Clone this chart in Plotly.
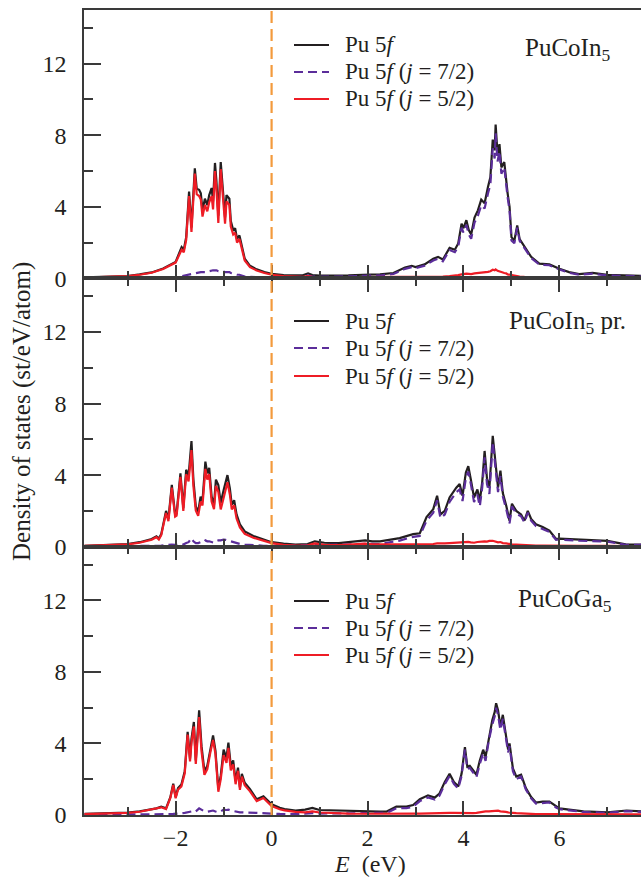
import plotly.graph_objects as go
from plotly.subplots import make_subplots

# ---------------- data ----------------
# Panel 1: PuCoIn5
E1 = [-3.9, -3.5, -3.0, -2.75, -2.5, -2.26, -2.0, -1.875, -1.83, -1.78,
      -1.72, -1.67, -1.6, -1.56, -1.51, -1.475, -1.44, -1.39, -1.34, -1.3,
      -1.25, -1.22, -1.18, -1.15, -1.11, -1.06, -1.02, -0.97, -0.94, -0.88,
      -0.85, -0.8, -0.76, -0.72, -0.67, -0.625, -0.56, -0.45, -0.31, -0.15,
      0.0, 0.25, 0.5, 0.65, 0.76, 0.85, 1.0, 1.3, 1.6, 1.9,
      2.1, 2.26, 2.54, 2.78, 2.92, 3.0, 3.19, 3.37, 3.47, 3.57,
      3.71, 3.82, 3.89, 3.96, 4.0, 4.06, 4.11, 4.16, 4.23, 4.3,
      4.37, 4.44, 4.51, 4.56, 4.61, 4.65, 4.67, 4.71, 4.75, 4.79,
      4.85, 4.89, 4.92, 4.96, 5.0, 5.06, 5.12, 5.17, 5.27, 5.41,
      5.58, 5.79, 6.0, 6.2, 6.41, 6.69, 7.0, 7.3, 7.7]
tot1 = [0.05, 0.08, 0.13, 0.22, 0.33, 0.55, 0.92, 1.75, 1.6, 2.3,
        4.85, 2.85, 6.15, 5.0, 4.95, 4.75, 3.8, 4.45, 4.1, 4.65,
        5.05, 4.3, 6.45, 5.45, 3.5, 6.5, 5.2, 3.4, 4.65, 4.45,
        3.2, 2.7, 2.8, 2.2, 2.4, 1.8, 1.1, 0.7, 0.5, 0.35,
        0.25, 0.18, 0.15, 0.17, 0.28, 0.18, 0.15, 0.14, 0.17, 0.2,
        0.2, 0.22, 0.3, 0.6, 0.7, 0.63, 0.78, 1.1, 1.2, 1.05,
        1.7, 1.6, 1.95, 3.05, 2.8, 3.25, 2.7, 2.45, 3.4, 3.8,
        4.4, 4.2, 5.1, 5.65, 7.75, 7.15, 8.6, 6.95, 7.5, 6.2,
        6.5, 5.4, 4.75, 4.0, 2.3, 2.1, 2.95, 2.2, 1.75, 1.2,
        0.82, 0.78, 0.54, 0.35, 0.24, 0.3, 0.19, 0.17, 0.14]
j72_1 = [0.01, 0.01, 0.01, 0.02, 0.02, 0.03, 0.04, 0.12, 0.15, 0.15,
         0.2, 0.25, 0.3, 0.3, 0.35, 0.35, 0.35, 0.35, 0.35, 0.4,
         0.45, 0.45, 0.45, 0.45, 0.4, 0.4, 0.4, 0.35, 0.35, 0.35,
         0.3, 0.25, 0.25, 0.2, 0.2, 0.15, 0.1, 0.08, 0.06, 0.05,
         0.05, 0.06, 0.07, 0.09, 0.16, 0.1, 0.09, 0.08, 0.11, 0.14,
         0.14, 0.16, 0.24, 0.53, 0.63, 0.56, 0.71, 1.0, 1.1, 0.95,
         1.58, 1.46, 1.77, 2.83, 2.56, 2.99, 2.45, 2.21, 3.12, 3.5,
         4.08, 3.9, 4.74, 5.25, 7.27, 6.7, 8.1, 6.53, 7.1, 5.85,
         6.2, 5.12, 4.53, 3.8, 2.12, 1.96, 2.83, 2.1, 1.67, 1.14,
         0.77, 0.73, 0.5, 0.31, 0.2, 0.26, 0.16, 0.14, 0.11]
j52_1 = [0.04, 0.07, 0.12, 0.2, 0.31, 0.52, 0.88, 1.6, 1.45, 2.15,
         4.6, 2.6, 5.85, 4.7, 4.6, 4.4, 3.45, 4.1, 3.75, 4.25,
         4.6, 3.85, 6.0, 5.0, 3.1, 6.1, 4.8, 3.05, 4.3, 4.1,
         2.9, 2.45, 2.55, 2.0, 2.2, 1.65, 1.0, 0.62, 0.44, 0.3,
         0.2, 0.12, 0.08, 0.08, 0.12, 0.08, 0.06, 0.06, 0.06, 0.06,
         0.06, 0.06, 0.06, 0.07, 0.07, 0.07, 0.07, 0.08, 0.1, 0.1,
         0.12, 0.14, 0.18, 0.22, 0.24, 0.26, 0.25, 0.24, 0.28, 0.3,
         0.32, 0.3, 0.36, 0.4, 0.48, 0.45, 0.5, 0.42, 0.4, 0.35,
         0.3, 0.28, 0.22, 0.2, 0.18, 0.14, 0.12, 0.1, 0.08, 0.06,
         0.05, 0.05, 0.04, 0.04, 0.04, 0.04, 0.03, 0.03, 0.03]

# Panel 2: PuCoIn5 pr.
E2 = [-3.9, -3.5, -3.0, -2.75, -2.5, -2.4, -2.35, -2.3, -2.2, -2.15,
      -2.08, -2.01, -1.98, -1.9, -1.84, -1.78, -1.73, -1.67, -1.63, -1.58,
      -1.53, -1.48, -1.44, -1.38, -1.34, -1.3, -1.25, -1.2, -1.16, -1.11,
      -1.06, -1.0, -0.96, -0.92, -0.87, -0.83, -0.78, -0.73, -0.66, -0.56,
      -0.38, -0.17, 0.0, 0.25, 0.5, 0.75, 0.9, 1.1, 1.4, 1.7,
      1.95, 2.1, 2.26, 2.67, 2.95, 3.09, 3.23, 3.37, 3.45, 3.52,
      3.61, 3.71, 3.85, 3.92, 3.98, 4.05, 4.1, 4.15, 4.22, 4.29,
      4.34, 4.39, 4.44, 4.49, 4.54, 4.61, 4.67, 4.72, 4.77, 4.82,
      4.89, 4.96, 5.01, 5.1, 5.2, 5.27, 5.34, 5.41, 5.51, 5.65,
      5.79, 5.93, 6.0, 6.41, 7.0, 7.38, 7.7]
tot2 = [0.05, 0.09, 0.15, 0.25, 0.43, 0.58, 0.45, 0.7, 2.0, 1.55,
        3.45, 1.8, 1.85, 4.1, 2.15, 4.3, 3.95, 5.9, 3.75, 2.25,
        1.95, 2.8, 2.55, 4.75, 4.1, 4.4, 2.8, 2.35, 3.75, 3.45,
        2.45, 3.15, 3.65, 4.0, 3.25, 2.35, 2.6, 1.8, 1.25, 0.85,
        0.6, 0.4, 0.25, 0.17, 0.12, 0.15, 0.3, 0.22, 0.2, 0.28,
        0.35, 0.3, 0.3, 0.48, 0.7, 0.75, 1.65, 2.1, 2.85, 1.8,
        2.0, 2.75, 3.3, 3.5, 2.85, 4.15, 4.5, 3.8, 2.75, 3.2,
        2.55, 3.6, 5.35, 3.8, 3.3, 6.2, 4.8, 3.3, 4.25, 3.0,
        2.3, 1.45, 2.4, 2.0, 1.8, 1.45, 2.0, 1.55, 1.25, 1.1,
        0.9, 0.43, 0.45, 0.38, 0.32, 0.13, 0.12]
j72_2 = [0.01, 0.01, 0.02, 0.03, 0.04, 0.05, 0.05, 0.06, 0.1, 0.1,
         0.12, 0.1, 0.1, 0.15, 0.12, 0.2, 0.25, 0.47, 0.3, 0.2,
         0.2, 0.25, 0.22, 0.35, 0.3, 0.3, 0.25, 0.22, 0.3, 0.35,
         0.35, 0.4, 0.38, 0.35, 0.3, 0.25, 0.25, 0.2, 0.15, 0.12,
         0.08, 0.05, 0.04, 0.05, 0.05, 0.07, 0.1, 0.1, 0.1, 0.13,
         0.16, 0.15, 0.15, 0.34, 0.55, 0.6, 1.45, 1.9, 2.6, 1.6,
         1.8, 2.5, 3.05, 3.2, 2.55, 3.85, 4.2, 3.55, 2.5, 2.9,
         2.25, 3.3, 5.0, 3.5, 2.95, 5.85, 4.5, 3.05, 3.95, 2.8,
         2.1, 1.3, 2.25, 1.85, 1.7, 1.35, 1.9, 1.45, 1.15, 1.0,
         0.82, 0.38, 0.4, 0.33, 0.28, 0.1, 0.1]
j52_2 = [0.04, 0.08, 0.13, 0.22, 0.39, 0.53, 0.4, 0.64, 1.88, 1.43,
         3.3, 1.68, 1.73, 3.9, 2.0, 4.05, 3.65, 5.4, 3.4, 2.02,
         1.72, 2.52, 2.3, 4.35, 3.75, 4.05, 2.52, 2.1, 3.4, 3.07,
         2.08, 2.72, 3.24, 3.6, 2.92, 2.08, 2.32, 1.58, 1.08, 0.72,
         0.5, 0.33, 0.2, 0.1, 0.06, 0.07, 0.18, 0.1, 0.09, 0.13,
         0.17, 0.13, 0.13, 0.12, 0.13, 0.13, 0.14, 0.15, 0.18, 0.17,
         0.18, 0.2, 0.22, 0.25, 0.27, 0.28, 0.27, 0.24, 0.22, 0.26,
         0.28, 0.27, 0.3, 0.28, 0.32, 0.33, 0.28, 0.24, 0.26, 0.2,
         0.18, 0.14, 0.13, 0.12, 0.1, 0.09, 0.08, 0.07, 0.06, 0.06,
         0.05, 0.04, 0.04, 0.04, 0.04, 0.03, 0.02]

# Panel 3: PuCoGa5
E3 = [-3.9, -3.5, -3.0, -2.75, -2.53, -2.4, -2.3, -2.2, -2.11, -2.05,
      -2.0, -1.95, -1.88, -1.81, -1.75, -1.7, -1.67, -1.62, -1.58, -1.51,
      -1.46, -1.4, -1.34, -1.28, -1.22, -1.17, -1.11, -1.06, -1.0, -0.94,
      -0.9, -0.85, -0.8, -0.75, -0.7, -0.66, -0.62, -0.56, -0.45, -0.31,
      -0.17, 0.0, 0.17, 0.27, 0.5, 0.7, 0.85, 1.0, 1.3, 1.6,
      1.9, 2.26, 2.4, 2.6, 2.81, 2.95, 3.09, 3.26, 3.4, 3.5,
      3.61, 3.71, 3.8, 3.89, 3.96, 4.03, 4.08, 4.13, 4.2, 4.27,
      4.34, 4.41, 4.46, 4.53, 4.6, 4.65, 4.68, 4.72, 4.77, 4.82,
      4.88, 4.93, 4.96, 5.03, 5.1, 5.2, 5.3, 5.41, 5.51, 5.65,
      5.79, 5.93, 6.0, 6.2, 6.5, 7.0, 7.4, 7.7]
tot3 = [0.06, 0.08, 0.14, 0.2, 0.32, 0.37, 0.47, 0.37, 1.0, 1.75,
        1.0, 1.5, 1.7, 2.45, 4.65, 3.15, 4.25, 5.2, 3.05, 5.85,
        3.85, 2.45, 2.75, 3.65, 4.45, 3.6, 1.45, 2.2, 3.65, 3.2,
        4.05, 2.75, 3.05, 1.9, 2.65, 1.55, 2.3, 1.8, 1.45, 0.88,
        1.05, 0.6, 0.4, 0.33, 0.25, 0.3, 0.4, 0.28, 0.25, 0.22,
        0.2, 0.19, 0.19, 0.47, 0.47, 0.56, 0.88, 1.1, 0.97, 1.2,
        1.85, 2.3, 1.85, 1.6, 2.3, 3.8, 2.7, 2.75, 2.5, 2.25,
        3.05, 3.65, 3.25, 4.4, 5.3, 5.75, 6.25, 5.85, 4.95, 5.6,
        4.55, 3.65, 4.0, 2.6, 2.15, 2.25, 1.5, 1.0, 0.7, 0.75,
        0.75, 0.47, 0.37, 0.3, 0.2, 0.15, 0.25, 0.2]
j72_3 = [0.01, 0.01, 0.02, 0.02, 0.03, 0.03, 0.04, 0.04, 0.05, 0.06,
         0.06, 0.08, 0.1, 0.12, 0.15, 0.15, 0.2, 0.25, 0.2, 0.37,
         0.3, 0.2, 0.18, 0.2, 0.25, 0.2, 0.15, 0.2, 0.3, 0.28,
         0.3, 0.25, 0.22, 0.18, 0.18, 0.15, 0.15, 0.14, 0.13, 0.1,
         0.1, 0.08, 0.06, 0.05, 0.05, 0.07, 0.1, 0.08, 0.1, 0.1,
         0.1, 0.12, 0.12, 0.38, 0.38, 0.46, 0.78, 0.98, 0.86, 1.08,
         1.72, 2.18, 1.74, 1.48, 2.18, 3.66, 2.58, 2.64, 2.4, 2.12,
         2.85, 3.45, 3.03, 4.2, 5.05, 5.5, 6.0, 5.6, 4.75, 5.38,
         4.38, 3.5, 3.85, 2.45, 2.0, 2.15, 1.42, 0.93, 0.64, 0.69,
         0.7, 0.42, 0.33, 0.26, 0.17, 0.12, 0.22, 0.17]
j52_3 = [0.05, 0.07, 0.12, 0.18, 0.29, 0.34, 0.43, 0.33, 0.95, 1.68,
         0.94, 1.42, 1.6, 2.33, 4.5, 3.0, 4.05, 4.95, 2.85, 5.48,
         3.55, 2.25, 2.57, 3.45, 4.2, 3.4, 1.3, 2.0, 3.35, 2.92,
         3.75, 2.5, 2.83, 1.72, 2.47, 1.4, 2.15, 1.66, 1.32, 0.78,
         0.95, 0.5, 0.32, 0.26, 0.17, 0.15, 0.2, 0.14, 0.1, 0.08,
         0.07, 0.06, 0.06, 0.07, 0.07, 0.08, 0.08, 0.1, 0.1, 0.1,
         0.11, 0.12, 0.12, 0.11, 0.12, 0.13, 0.12, 0.11, 0.1, 0.12,
         0.16, 0.19, 0.2, 0.2, 0.23, 0.24, 0.25, 0.24, 0.2, 0.2,
         0.17, 0.15, 0.15, 0.12, 0.1, 0.08, 0.07, 0.06, 0.05, 0.05,
         0.05, 0.04, 0.04, 0.04, 0.03, 0.03, 0.03, 0.03]

panel_names = ["PuCoIn<sub>5</sub>", "PuCoIn<sub>5</sub> pr.", "PuCoGa<sub>5</sub>"]
series_names = ["Pu 5<i>f</i>", "Pu 5<i>f</i> (<i>j</i> = 7/2)", "Pu 5<i>f</i> (<i>j</i> = 5/2)"]
y_ticks = [0, 4, 8, 12]
x_ticks = [-2, 0, 2, 4, 6]

# ---------------- styling ----------------
W, H = 641, 879
ML, MR, MT, MB = 84, 0, 10, 64
FONT = "Liberation Serif"
C_BLACK = "#231f20"
C_PURPLE = "#5b2d9a"
C_RED = "#ee1c25"
C_ORANGE = "#f39a3c"
AX = "#3a3a3a"


def pxx(p):
    return (p - ML) / (W - ML - MR)


def pyy(p):
    return (H - MB - p) / (H - MT - MB)


fig = make_subplots(rows=3, cols=1, shared_xaxes=True, vertical_spacing=0)

panels = [(E1, tot1, j72_1, j52_1), (E2, tot2, j72_2, j52_2), (E3, tot3, j72_3, j52_3)]
for r, (E, t, a, b) in enumerate(panels, start=1):
    fig.add_trace(go.Scatter(x=E, y=t, mode="lines", name=series_names[0],
                             line=dict(color=C_BLACK, width=2.2), showlegend=False), row=r, col=1)
    fig.add_trace(go.Scatter(x=E, y=a, mode="lines", name=series_names[1],
                             line=dict(color=C_PURPLE, width=2.2, dash="9px,5px"), showlegend=False), row=r, col=1)
    fig.add_trace(go.Scatter(x=E, y=b, mode="lines", name=series_names[2],
                             line=dict(color=C_RED, width=2.2), showlegend=False), row=r, col=1)

tickfont = dict(family=FONT, size=24, color=C_BLACK)
for r in (1, 2, 3):
    fig.update_xaxes(row=r, col=1, range=[-3.91, 7.70], showline=True, linecolor=AX, linewidth=1.5,
                     ticks="inside", ticklen=14, tickwidth=1.5, tickcolor=AX,
                     tickmode="array", tickvals=x_ticks,
                     minor=dict(tickmode="array", tickvals=[-3, -1, 1, 3, 5, 7], ticks="inside",
                                ticklen=8, tickwidth=1.5, tickcolor=AX),
                     showgrid=False, zeroline=False, showticklabels=(r == 3),
                     mirror=(True if r == 1 else "ticks"), tickfont=tickfont, ticklabelstandoff=0)
    fig.update_yaxes(row=r, col=1, range=[0, 15], showline=True, linecolor=AX, linewidth=1.5,
                     ticks="inside", ticklen=17, tickwidth=1.5, tickcolor=AX,
                     tickmode="array", tickvals=y_ticks,
                     minor=dict(tickmode="array", tickvals=[2, 6, 10, 14], ticks="inside",
                                ticklen=9, tickwidth=1.5, tickcolor=AX),
                     showgrid=False, zeroline=False, tickfont=tickfont, ticklabelstandoff=11)

# Fermi level
fig.add_shape(type="line", xref="x", yref="paper", x0=0, x1=0, y0=0, y1=1,
              line=dict(color=C_ORANGE, width=2.2, dash="12px,6px"))

# legends and panel labels (drawn per panel)
legend_rows = [(45, 72, 99), (321, 348, 376), (601, 628, 655)]
label_pos = [(523, 50), (507, 322), (516, 600)]
styles = [dict(color=C_BLACK, width=2.2), dict(color=C_PURPLE, width=2.2, dash="9px,5px"),
          dict(color=C_RED, width=2.2)]
for p in range(3):
    for k in range(3):
        yrow = legend_rows[p][k]
        fig.add_shape(type="line", xref="paper", yref="paper", x0=pxx(294), x1=pxx(329),
                      y0=pyy(yrow), y1=pyy(yrow), line=styles[k])
        fig.add_annotation(xref="paper", yref="paper", x=pxx(343), y=pyy(yrow),
                           text=series_names[k], showarrow=False, xanchor="left", yanchor="middle",
                           font=dict(family=FONT, size=23, color=C_BLACK))
    lx, ly = label_pos[p]
    fig.add_annotation(xref="paper", yref="paper", x=pxx(lx), y=pyy(ly), text=panel_names[p],
                       showarrow=False, xanchor="left", yanchor="middle",
                       font=dict(family=FONT, size=25, color=C_BLACK))

# axis titles
fig.add_annotation(xref="paper", yref="paper", x=pxx(22), y=pyy(412), text="Density of states (st/eV/atom)",
                   textangle=-90, showarrow=False, xanchor="center", yanchor="middle",
                   font=dict(family=FONT, size=25, color=C_BLACK))
fig.add_annotation(xref="paper", yref="paper", x=pxx(370), y=pyy(864), text="<i>E</i>  (eV)",
                   showarrow=False, xanchor="center", yanchor="middle",
                   font=dict(family=FONT, size=24, color=C_BLACK))

fig.update_layout(width=W, height=H, margin=dict(l=ML, r=MR, t=MT, b=MB),
                  paper_bgcolor="white", plot_bgcolor="white", showlegend=False)

fig.write_html("out.html", config={"displayModeBar": False},
               post_script="document.body.style.margin='0px';document.body.style.overflow='hidden';")
